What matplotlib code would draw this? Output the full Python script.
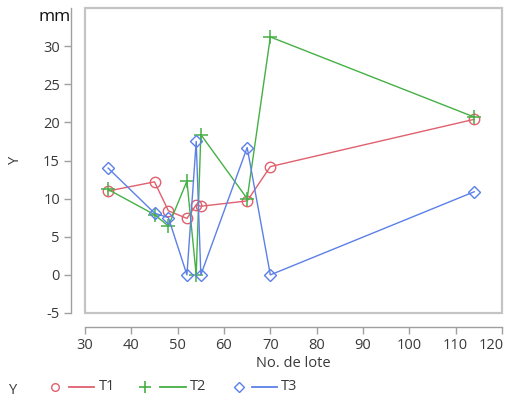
import matplotlib
matplotlib.use("Agg")
import matplotlib.pyplot as plt
import matplotlib.transforms as mtrans
from matplotlib.lines import Line2D

plt.rcParams['font.family'] = ['Open Sans', 'DejaVu Sans']
plt.rcParams['axes.unicode_minus'] = False

# Data
t1_x = [35, 45, 48, 52, 54, 55, 65, 70, 114]
t1_y = [11.0, 12.2, 8.4, 7.4, 9.2, 9.0, 9.7, 14.2, 20.4]
t2_x = [35, 45, 48, 52, 54, 55, 65, 70, 114]
t2_y = [11.2, 7.9, 6.4, 12.3, 0.0, 18.4, 10.0, 31.2, 20.7]
t3_x = [35, 45, 48, 52, 54, 55, 65, 70, 114]
t3_y = [14.0, 8.1, 7.5, 0.0, 17.5, 0.0, 16.7, 0.0, 10.9]
series_names = ['T1', 'T2', 'T3']
x_ticks = [30, 40, 50, 60, 70, 80, 90, 100, 110, 120]
y_ticks = [-5, 0, 5, 10, 15, 20, 25, 30]

RED = '#E0606E'
GREEN = '#45B045'
BLUE = '#5B80E8'
TXT = '#3a3a3a'

W, H = 508, 403
fig = plt.figure(figsize=(W / 100, H / 100), dpi=100)
ax = fig.add_axes([85 / W, 1 - 313 / H, (502 - 85) / W, (313 - 8) / H])

ax.plot(t1_x, t1_y, color=RED, lw=1.0, marker='o', ms=7.5, mfc='none', mec=RED, mew=1.0)
ax.plot(t2_x, t2_y, color=GREEN, lw=1.0, marker='+', ms=10, mec=GREEN, mew=1.1)
ax.plot(t3_x, t3_y, color=BLUE, lw=1.0, marker='D', ms=6, mfc='none', mec=BLUE, mew=1.0)

ax.set_xlim(30, 120)
ax.set_ylim(-5, 35)
ax.set_xticks(x_ticks)
ax.set_yticks(y_ticks)

ax.patch.set_edgecolor('#c4c4c4')
ax.patch.set_linewidth(1.6)
for s in ['top', 'right']:
    ax.spines[s].set_visible(False)
for s in ['left', 'bottom']:
    ax.spines[s].set_position(('outward', 10))
    ax.spines[s].set_color('#a0a0a0')
    ax.spines[s].set_linewidth(1.0)
ax.spines['left'].set_bounds(-5, 35)
ax.spines['bottom'].set_bounds(30, 120)

ax.tick_params(axis='both', direction='out', length=5, width=1.0, color='#a0a0a0',
               labelsize=10.5, labelcolor=TXT, pad=3)
# last x tick label pulled inside, as in the reference
fig.canvas.draw()
last = ax.get_xticklabels()[-1]
last.set_horizontalalignment('right')
last.set_transform(last.get_transform() + mtrans.ScaledTranslation(2 / 100, 0, fig.dpi_scale_trans))

ax.set_xlabel('No. de lote', fontsize=10.5, color=TXT, labelpad=2)
ax.set_ylabel('Y', fontsize=10.5, color=TXT)
ax.yaxis.set_label_coords(23 / W, 1 - 160 / H, transform=fig.transFigure)

fig.text(55 / W, 1 - 17 / H, 'mm', fontsize=12.5, color='#111111', ha='center', va='center')

# Legend (manual, JMP style)
lax = fig.add_axes([0, 0, 1, 1])
lax.set_xlim(0, W)
lax.set_ylim(H, 0)
lax.axis('off')
ly = 387
lax.text(13, ly + 3, 'Y', fontsize=10.5, color=TXT, ha='center', va='center')
items = [
    (55, 69, 94, 99, RED, dict(marker='o', ms=5.5, mfc='none', mec=RED, mew=1.0)),
    (145, 160, 186, 190, GREEN, dict(marker='+', ms=8, mec=GREEN, mew=1.2)),
    (239, 252, 277, 281, BLUE, dict(marker='D', ms=5, mfc='none', mec=BLUE, mew=1.0)),
]
for (mx, l0, l1, tx, c, mk), name in zip(items, series_names):
    lax.add_line(Line2D([mx], [ly], linestyle='none', **mk))
    lax.add_line(Line2D([l0, l1], [ly, ly], color=c, lw=1.3))
    lax.text(tx, ly, name, fontsize=10.5, color=TXT, ha='left', va='center')

fig.savefig('out.png', dpi=100)
